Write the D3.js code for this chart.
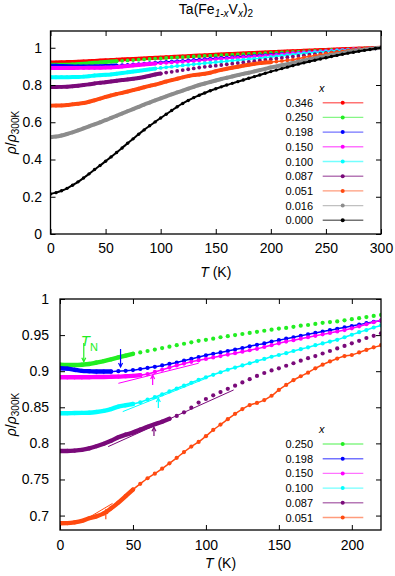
<!DOCTYPE html>
<html>
<head>
<meta charset="utf-8">
<script src="https://cdn.jsdelivr.net/npm/d3@7"></script>
<style>
body { margin: 0; background: #fff; }
svg { font-family: "Liberation Sans", Arial, sans-serif; }
</style>
</head>
<body>
<div id="chart"></div>
<script>
// temperature grid (K)
const temps = [0,5,10,15,20,25,30,35,40,45,50,55,60,65,70,75,80,85,90,95,100,105,110,115,120,125,130,135,140,145,150,
  155,160,165,170,175,180,185,190,195,200,205,210,215,220,225,230,235,240,245,250,255,260,265,270,275,280,285,290,295,300];

// rho / rho(300 K)
const rho346 = [0.921,0.9215,0.922,0.923,0.924,0.925,0.9265,0.928,0.9295,0.931,0.9325,0.934,0.9355,0.937,0.9385,0.940,0.9415,0.943,0.9445,0.946,0.9475,
  0.949,0.9505,0.952,0.9535,0.955,0.9565,0.958,0.9595,0.961,0.9625,0.964,0.9655,0.967,0.9683,0.9696,0.971,0.9723,0.9736,0.975,0.9763,
  0.9776,0.979,0.980,0.9813,0.9826,0.984,0.985,0.9862,0.9874,0.9886,0.9898,0.991,0.992,0.9932,0.9944,0.9955,0.9966,0.9977,0.9989,1.0];
const rho250 = [0.909,0.9085,0.9085,0.909,0.910,0.912,0.914,0.9165,0.919,0.9215,0.924,0.926,0.928,0.930,0.932,0.934,0.936,0.938,0.940,0.942,0.9435,
  0.945,0.947,0.9485,0.950,0.9515,0.953,0.9545,0.956,0.9575,0.959,0.960,0.9615,0.963,0.964,0.9655,0.967,0.968,0.969,0.9705,0.972,
  0.9735,0.975,0.9765,0.978,0.979,0.9805,0.982,0.9835,0.985,0.9865,0.988,0.989,0.990,0.9915,0.993,0.9945,0.996,0.997,0.9985,1.0];
const rho198 = [0.904,0.9035,0.902,0.9005,0.900,0.8995,0.8995,0.8995,0.900,0.9005,0.9015,0.903,0.9045,0.906,0.908,0.910,0.912,0.9145,0.917,0.9195,0.922,
  0.924,0.926,0.928,0.930,0.932,0.9345,0.9365,0.9385,0.941,0.943,0.945,0.947,0.949,0.951,0.953,0.955,0.9568,0.9587,0.9606,0.9626,
  0.9645,0.9665,0.9685,0.970,0.972,0.974,0.976,0.9775,0.979,0.981,0.983,0.985,0.9865,0.988,0.990,0.992,0.9935,0.995,0.9975,1.0];
const rho150 = [0.8915,0.8915,0.8915,0.8915,0.8917,0.892,0.892,0.8922,0.8925,0.893,0.8935,0.8945,0.896,0.899,0.902,0.905,0.908,0.9105,0.913,0.915,0.917,
  0.919,0.921,0.923,0.925,0.927,0.929,0.931,0.9335,0.936,0.9386,0.941,0.943,0.945,0.947,0.949,0.951,0.953,0.955,0.957,0.9594,
  0.9622,0.965,0.9678,0.9705,0.973,0.975,0.977,0.979,0.981,0.983,0.985,0.987,0.989,0.9905,0.992,0.994,0.9955,0.997,0.9985,1.0];
const rho100 = [0.8417,0.8417,0.842,0.8422,0.8425,0.8435,0.845,0.8475,0.851,0.8528,0.8546,0.857,0.8605,0.864,0.868,0.872,0.876,0.880,0.884,0.888,0.8915,
  0.895,0.8985,0.902,0.905,0.908,0.911,0.914,0.917,0.920,0.9224,0.925,0.928,0.9305,0.933,0.936,0.9385,0.941,0.9435,0.947,0.9505,
  0.954,0.957,0.9605,0.9635,0.967,0.970,0.9725,0.975,0.977,0.9795,0.982,0.984,0.986,0.988,0.990,0.992,0.994,0.996,0.998,1.0];
const rho087 = [0.7895,0.7895,0.790,0.791,0.793,0.796,0.7995,0.8035,0.8085,0.812,0.815,0.819,0.823,0.8265,0.830,0.834,0.838,0.843,0.8495,0.8565,0.8615,
  0.8665,0.871,0.8755,0.880,0.8845,0.889,0.8935,0.8975,0.901,0.904,0.9075,0.911,0.9145,0.918,0.921,0.9245,0.928,0.9315,0.935,0.9386,
  0.942,0.946,0.949,0.9525,0.956,0.9595,0.963,0.966,0.969,0.972,0.975,0.978,0.981,0.984,0.987,0.990,0.9925,0.995,0.9975,1.0];
const rho051 = [0.6893,0.6895,0.6905,0.6925,0.6963,0.699,0.703,0.710,0.718,0.727,0.736,0.744,0.7517,0.758,0.765,0.7724,0.780,0.788,0.7955,0.802,0.810,
  0.8186,0.826,0.8335,0.841,0.8475,0.853,0.856,0.860,0.866,0.874,0.881,0.8875,0.893,0.898,0.904,0.909,0.9135,0.9175,0.921,0.9224,
  0.926,0.9295,0.933,0.936,0.942,0.948,0.953,0.958,0.963,0.968,0.973,0.977,0.981,0.985,0.989,0.992,0.995,0.9975,0.999,1.0];
const rho016 = [0.520,0.523,0.529,0.537,0.546,0.556,0.567,0.578,0.589,0.600,0.611,0.623,0.635,0.647,0.659,0.671,0.683,0.695,0.706,0.717,0.728,
  0.739,0.750,0.760,0.770,0.780,0.790,0.800,0.808,0.816,0.824,0.832,0.839,0.846,0.853,0.860,0.866,0.873,0.880,0.887,0.894,
  0.900,0.906,0.912,0.918,0.925,0.931,0.937,0.943,0.949,0.955,0.961,0.966,0.971,0.976,0.981,0.986,0.990,0.994,0.997,1.0];
const rho000 = [0.215,0.222,0.232,0.245,0.262,0.280,0.301,0.323,0.346,0.368,0.391,0.414,0.438,0.462,0.487,0.511,0.536,0.559,0.581,0.602,0.623,
  0.643,0.663,0.683,0.701,0.717,0.732,0.745,0.757,0.769,0.780,0.790,0.800,0.809,0.818,0.827,0.836,0.845,0.854,0.863,0.872,
  0.880,0.888,0.896,0.904,0.912,0.919,0.926,0.933,0.940,0.946,0.953,0.959,0.965,0.971,0.976,0.981,0.986,0.991,0.996,1.0];

const xLabels = ["0.346","0.250","0.198","0.150","0.100","0.087","0.051","0.016","0.000"];
const seriesValues = [rho346, rho250, rho198, rho150, rho100, rho087, rho051, rho016, rho000];
const zoomLabels = ["0.250","0.198","0.150","0.100","0.087","0.051"];

// T_N arrows (T, tip value, tail value) and the thin fit lines of the lower panel
const tnArrows = [
  {x:"0.250", T:16.3, tip:0.9132, tail:0.939},
  {x:"0.198", T:41.5, tip:0.9058, tail:0.9307},
  {x:"0.150", T:63.5, tip:0.8947, tail:0.8809},
  {x:"0.100", T:67.4, tip:0.8629, tail:0.849},
  {x:"0.087", T:64.4, tip:0.8223, tail:0.8102},
  {x:"0.051", T:31.4, tip:0.7078, tail:0.6949}
];
const fitLines = [
  {x:"0.150", pts:[[40,0.8832],[95,0.911]]},
  {x:"0.100", pts:[[43,0.844],[100,0.890]]},
  {x:"0.087", pts:[[33,0.7955],[119,0.874]]},
  {x:"0.051", pts:[[17,0.694],[36,0.7168]]}
];

const topXTicks = [0,50,100,150,200,250,300];
const topYTicks = [0,0.2,0.4,0.6,0.8,1];
const botXTicks = [0,50,100,150,200];
const botYTicks = [0.7,0.75,0.8,0.85,0.9,0.95,1];

// styles
const colors = {"0.346":"#ff0000","0.250":"#22ee22","0.198":"#0000ff","0.150":"#ff00ff","0.100":"#00ffff",
  "0.087":"#7a0a7a","0.051":"#ff4a10","0.016":"#8c8c8c","0.000":"#000000"};
const denseTop = {"0.346":300,"0.250":60,"0.198":60,"0.150":95,"0.100":95,"0.087":100,"0.051":200,"0.016":300,"0.000":0};
const denseBot = {"0.250":50,"0.198":35,"0.150":55,"0.100":50,"0.087":78,"0.051":50};
const chain = {"0.346":true,"0.250":false,"0.198":true,"0.150":true,"0.100":true,"0.087":false,"0.051":true,"0.016":true,"0.000":true};

const W = 395, H = 576;
const svg = d3.select("#chart").append("svg").attr("width", W).attr("height", H);

function seriesData(label) {
  const vals = seriesValues[xLabels.indexOf(label)];
  return temps.map((t, i) => ({T: t, v: vals[i]}));
}

function drawPanel(cfg, id) {
  const x = d3.scaleLinear().domain(cfg.xDomain).range([cfg.left, cfg.right]);
  const y = d3.scaleLinear().domain(cfg.yDomain).range([cfg.bottom, cfg.top]);
  const g = svg.append("g");

  g.append("clipPath").attr("id", "clip" + id)
    .append("rect").attr("x", cfg.left).attr("y", cfg.top)
    .attr("width", cfg.right - cfg.left).attr("height", cfg.bottom - cfg.top);

  const plot = g.append("g").attr("clip-path", `url(#clip${id})`);
  const line = d3.line().x(d => x(d.T)).y(d => y(d.v)).curve(d3.curveMonotoneX);

  cfg.labels.forEach(lab => {
    const data = seriesData(lab);
    const c = colors[lab];
    const r = lab === "0.000" ? 1.7 : cfg.r;
    const s = plot.append("g");
    if (chain[lab]) {
      s.append("path").datum(data).attr("d", line)
        .attr("fill", "none").attr("stroke", c).attr("stroke-width", lab === "0.000" ? 2 : 1.5);
    }
    const dense = data.filter(d => d.T <= cfg.dense[lab]);
    if (dense.length > 1) {
      s.append("path").datum(dense).attr("d", line)
        .attr("fill", "none").attr("stroke", c).attr("stroke-width", cfg.r * 2.1)
        .attr("stroke-linecap", "round");
    }
    s.selectAll("circle").data(data).join("circle")
      .attr("cx", d => x(d.T)).attr("cy", d => y(d.v)).attr("r", r).attr("fill", c);
  });

  if (cfg.annotate) {
    fitLines.forEach(f => {
      plot.append("path").datum(f.pts)
        .attr("d", d3.line().x(p => x(p[0])).y(p => y(p[1])))
        .attr("stroke", colors[f.x]).attr("stroke-width", 1).attr("fill", "none");
    });
    tnArrows.forEach(a => {
      const c = colors[a.x];
      const xt = x(a.T), yt = y(a.tip), yb = y(a.tail);
      const dir = yt > yb ? 1 : -1;
      plot.append("line").attr("x1", xt).attr("x2", xt).attr("y1", yb).attr("y2", yt)
        .attr("stroke", c).attr("stroke-width", 1.2);
      plot.append("path")
        .attr("d", `M${xt - 2},${yt - dir * 4}L${xt},${yt}L${xt + 2},${yt - dir * 4}`)
        .attr("stroke", c).attr("stroke-width", 1.2).attr("fill", "none");
    });
    const tn = g.append("text").attr("x", x(16.3) - 3).attr("y", y(0.939) + 3)
      .attr("fill", colors["0.250"]).attr("font-size", 15);
    tn.append("tspan").attr("font-style", "italic").text("T");
    tn.append("tspan").attr("font-size", 11).attr("dy", 5).text("N");
  }

  // axes with inward ticks, mirrored on top and right
  const fmt = d => String(d);
  const styleAxis = sel => {
    sel.select(".domain").remove();
    sel.selectAll("text").attr("font-size", 14).attr("font-family", "Liberation Sans, Arial, sans-serif").attr("fill", "#000");
    sel.selectAll("line").attr("stroke", "#000").attr("stroke-width", 1);
  };
  g.append("g").attr("transform", `translate(0,${cfg.bottom})`)
    .call(d3.axisBottom(x).tickValues(cfg.xTicks).tickFormat(fmt).tickSizeInner(-5).tickSizeOuter(0).tickPadding(cfg.xPad))
    .call(styleAxis);
  g.append("g").attr("transform", `translate(0,${cfg.top})`)
    .call(d3.axisTop(x).tickValues(cfg.xTicks).tickFormat("").tickSizeInner(-5).tickSizeOuter(0))
    .call(styleAxis);
  g.append("g").attr("transform", `translate(${cfg.left},0)`)
    .call(d3.axisLeft(y).tickValues(cfg.yTicks).tickFormat(fmt).tickSizeInner(-5).tickSizeOuter(0).tickPadding(cfg.yPad))
    .call(styleAxis);
  g.append("g").attr("transform", `translate(${cfg.right},0)`)
    .call(d3.axisRight(y).tickValues(cfg.yTicks).tickFormat("").tickSizeInner(-5).tickSizeOuter(0))
    .call(styleAxis);

  g.append("rect").attr("x", cfg.left).attr("y", cfg.top)
    .attr("width", cfg.right - cfg.left).attr("height", cfg.bottom - cfg.top)
    .attr("fill", "none").attr("stroke", "#000").attr("stroke-width", 1.3);

  // axis titles
  const xt = g.append("text").attr("x", (cfg.left + cfg.right) / 2).attr("y", cfg.xTitleY)
    .attr("text-anchor", "middle").attr("font-size", 14);
  xt.append("tspan").attr("font-style", "italic").text("T");
  xt.append("tspan").text(" (K)");

  const cy = (cfg.top + cfg.bottom) / 2;
  const yt = g.append("text").attr("transform", `translate(16,${cy}) rotate(-90)`)
    .attr("text-anchor", "middle").attr("font-size", 14);
  yt.append("tspan").attr("font-style", "italic").text("ρ");
  yt.append("tspan").text("/");
  yt.append("tspan").attr("font-style", "italic").text("ρ");
  yt.append("tspan").attr("font-size", 10).attr("dy", 3).text("300K");

  // legend
  const lg = g.append("g");
  lg.append("text").attr("x", 321.7).attr("y", cfg.legendY - 11).attr("text-anchor", "middle")
    .attr("font-size", 11).attr("font-style", "italic").text("x");
  cfg.labels.forEach((lab, i) => {
    const ly = cfg.legendY + i * 14.7;
    lg.append("text").attr("x", 313).attr("y", ly + 4).attr("text-anchor", "end")
      .attr("font-size", 11).text(lab);
    lg.append("line").attr("x1", 322.7).attr("x2", 363.3).attr("y1", ly).attr("y2", ly)
      .attr("stroke", colors[lab]).attr("stroke-opacity", 0.55).attr("stroke-width", 1.4);
    lg.append("circle").attr("cx", 342.7).attr("cy", ly).attr("r", 2).attr("fill", colors[lab]);
  });
}

// title
const title = svg.append("text").attr("x", 216).attr("y", 14).attr("text-anchor", "middle").attr("font-size", 14);
title.append("tspan").text("Ta(Fe");
title.append("tspan").attr("font-size", 10).attr("font-style", "italic").attr("dy", 3).text("1-x");
title.append("tspan").attr("dy", -3).text("V");
title.append("tspan").attr("font-size", 10).attr("font-style", "italic").attr("dy", 3).text("x");
title.append("tspan").attr("dy", -3).text(")");
title.append("tspan").attr("font-size", 10).attr("dy", 3).text("2");

drawPanel({
  left: 50.5, right: 381, top: 31, bottom: 234,
  xDomain: [0, 300], yDomain: [0, 1.09],
  xTicks: topXTicks, yTicks: topYTicks, xPad: 9, yPad: 8.5,
  labels: xLabels, r: 1.9, dense: denseTop, legendY: 102.7, xTitleY: 277, annotate: false
}, 1);

drawPanel({
  left: 60, right: 381, top: 299, bottom: 530,
  xDomain: [0, 220], yDomain: [0.68, 1.0],
  xTicks: botXTicks, yTicks: botYTicks, xPad: 10, yPad: 11,
  labels: zoomLabels, r: 2.1, dense: denseBot, legendY: 444, xTitleY: 568, annotate: true
}, 2);
</script>
</body>
</html>
